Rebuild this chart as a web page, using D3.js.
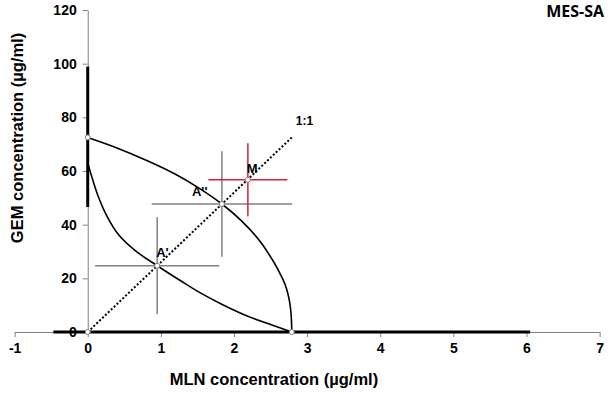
<!DOCTYPE html>
<html>
<head>
<meta charset="utf-8">
<script src="https://cdn.jsdelivr.net/npm/d3@7"></script>
<style>
  body { margin: 0; background: #fff; }
  svg text { font-family: "Liberation Sans", Arial, sans-serif; font-weight: bold; }
</style>
</head>
<body>
<div id="chart"></div>
<script>
const xTicks = [-1, 0, 1, 2, 3, 4, 5, 6, 7];
const yTicks = [0, 20, 40, 60, 80, 100, 120];

// isoboles of additivity (MLN, GEM)
const upperIsobole = [[0, 72.5], [0.4, 68.6], [0.8, 64.0], [1.2, 58.8], [1.5, 54.0],
  [1.835, 47.7], [2.1, 41.5], [2.35, 34.0], [2.55, 25.8], [2.64, 21.2], [2.70, 17.6],
  [2.74, 14.0], [2.765, 10.5], [2.78, 7.0], [2.787, 3.5], [2.79, 0]];
const lowerIsobole = [[0, 63], [0.055, 57.9], [0.14, 50.8], [0.27, 42.8], [0.42, 36.3],
  [0.65, 30.3], [0.95, 24.7], [1.265, 19.2], [1.54, 14.6], [1.86, 10.0], [2.18, 6.0],
  [2.5, 2.8], [2.79, 0]];

// 1:1 ratio line
const ratioLine = [[0, 0], [2.79, 72.5]];

// single-agent ranges drawn thick on the axes
const gemRange = [46.6, 98.9];
const mlnRange = [-0.47, 6.05];

const pointNames = ["A'", "A''", "M"];
const pointX = [0.95, 1.835, 2.19];
const pointY = [24.7, 47.7, 56.7];
const pointXErr = [0.85, 0.96, 0.54];
const pointYErr = [18.1, 19.7, 13.6];

const endPoints = [[0, 72.5], [0, 0], [2.79, 0]];

const width = 609, height = 396;

const svg = d3.select("#chart").append("svg")
  .attr("width", width)
  .attr("height", height);

const x = d3.scaleLinear().domain([-1, 7]).range([14.6, 599.6]);
const y = d3.scaleLinear().domain([0, 120]).range([332, 10]);

// axes
const xAxis = svg.append("g")
  .attr("transform", `translate(0,${y(0)})`)
  .call(d3.axisBottom(x).tickValues(xTicks).tickFormat(d => String(d))
    .tickSize(5).tickSizeOuter(0).tickPadding(6));
const yAxis = svg.append("g")
  .attr("transform", `translate(${x(0)},0)`)
  .call(d3.axisLeft(y).tickValues(yTicks).tickFormat(d => String(d))
    .tickSize(5).tickSizeOuter(0).tickPadding(6));

[xAxis, yAxis].forEach(g => {
  g.select(".domain").attr("stroke", "#808080");
  g.selectAll(".tick line").attr("stroke", "#808080");
  g.selectAll(".tick text").attr("font-size", 14).attr("fill", "#000")
    .attr("font-family", "Liberation Sans, Arial, sans-serif");
});

// thick single-agent segments
svg.append("line")
  .attr("x1", x(0)).attr("x2", x(0))
  .attr("y1", y(gemRange[0])).attr("y2", y(gemRange[1]))
  .attr("stroke", "#000").attr("stroke-width", 3);
svg.append("line")
  .attr("x1", x(mlnRange[0])).attr("x2", x(mlnRange[1]))
  .attr("y1", y(0)).attr("y2", y(0))
  .attr("stroke", "#000").attr("stroke-width", 3);

const line = d3.line().x(d => x(d[0])).y(d => y(d[1]));
const curve = d3.line().x(d => x(d[0])).y(d => y(d[1])).curve(d3.curveCatmullRom);

// 1:1 dotted line
svg.append("path")
  .attr("d", line(ratioLine))
  .attr("fill", "none").attr("stroke", "#000")
  .attr("stroke-width", 2).attr("stroke-dasharray", "2,2");

// error crosses
const pts = pointNames.map((n, i) => ({
  name: n, x: pointX[i], y: pointY[i], xe: pointXErr[i], ye: pointYErr[i]
}));
const bars = svg.append("g");
pts.forEach(p => {
  const col = p.name === "M" ? "#e02030" : "#808080";
  bars.append("line")
    .attr("x1", x(p.x - p.xe)).attr("x2", x(p.x + p.xe))
    .attr("y1", y(p.y)).attr("y2", y(p.y))
    .attr("stroke", col).attr("stroke-width", 1.5);
  bars.append("line")
    .attr("x1", x(p.x)).attr("x2", x(p.x))
    .attr("y1", y(p.y - p.ye)).attr("y2", y(p.y + p.ye))
    .attr("stroke", col).attr("stroke-width", 1.5);
});

// isoboles
[upperIsobole, lowerIsobole].forEach(data => {
  svg.append("path")
    .attr("d", curve(data))
    .attr("fill", "none").attr("stroke", "#000").attr("stroke-width", 1.6);
});

// markers
svg.append("g").selectAll("circle")
  .data(endPoints.concat(pts.map(p => [p.x, p.y])))
  .join("circle")
  .attr("cx", d => x(d[0])).attr("cy", d => y(d[1]))
  .attr("r", 2.5)
  .attr("fill", "#fff").attr("stroke", "#808080").attr("stroke-width", 1);

// point labels
const labelOffsets = { "A'": [-1, -9], "A''": [-30, -8], "M": [-1, -7] };
svg.append("g").selectAll("text")
  .data(pts)
  .join("text")
  .attr("x", d => x(d.x) + labelOffsets[d.name][0])
  .attr("y", d => y(d.y) + labelOffsets[d.name][1])
  .attr("font-size", 13)
  .text(d => d.name);

svg.append("text")
  .attr("x", x(ratioLine[1][0]) + 4)
  .attr("y", y(ratioLine[1][1]) - 12)
  .attr("font-size", 12)
  .text("1:1");

// titles
svg.append("text")
  .attr("x", 274).attr("y", 385)
  .attr("text-anchor", "middle")
  .attr("font-size", 16.5)
  .text("MLN concentration (µg/ml)");

svg.append("text")
  .attr("transform", "translate(23,138) rotate(-90)")
  .attr("text-anchor", "middle")
  .attr("font-size", 16.5)
  .text("GEM concentration (µg/ml)");

svg.append("text")
  .attr("x", 604).attr("y", 17)
  .attr("text-anchor", "end")
  .attr("font-size", 16)
  .style("font-family", "'Open Sans', sans-serif")
  .text("MES-SA");
</script>
</body>
</html>
